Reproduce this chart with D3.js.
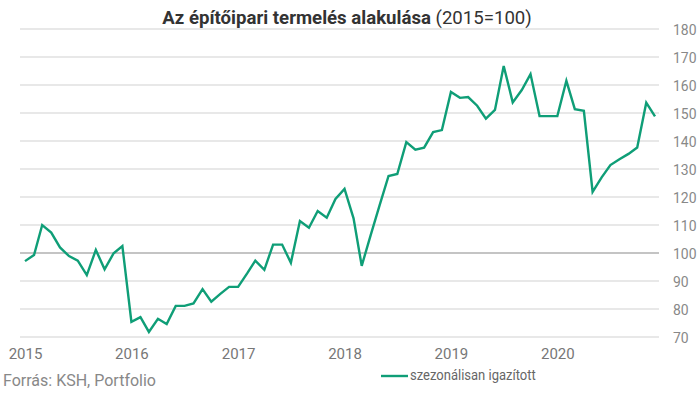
<!DOCTYPE html>
<html>
<head>
<meta charset="utf-8">
<script src="https://cdn.jsdelivr.net/npm/d3@7"></script>
<style>
  html, body { margin: 0; padding: 0; background: #fff; }
  svg { display: block; font-family: Roboto, "Noto Sans", sans-serif; }
</style>
</head>
<body>
<svg id="chart" width="699" height="395"></svg>
<script>
// ---- data ----
const startYear = 2015;
const values = [
  97.1, 99.3, 110.0, 107.3, 102.0, 98.9, 97.3, 92.1, 101.1, 94.2, 99.9, 102.5,
  75.4, 77.1, 71.8, 76.5, 74.6, 81.1, 81.1, 82.0, 87.1, 82.6, 85.4, 87.9,
  87.9, 92.7, 97.3, 94.0, 103.0, 103.0, 96.5, 111.4, 109.0, 115.0, 112.6, 119.3,
  122.9, 112.4, 95.4, 106.5, 116.9, 127.5, 128.2, 139.6, 136.9, 137.6, 143.2, 143.9,
  157.5, 155.4, 155.7, 152.6, 148.0, 151.1, 166.8, 153.8, 158.2, 163.9, 148.9, 148.9,
  148.9, 161.5, 151.4, 150.8, 121.8, 127.0, 131.4, 133.5, 135.4, 137.7, 153.7, 148.8
];
const yTicks = [70, 80, 90, 100, 110, 120, 130, 140, 150, 160, 170, 180];
const xTickLabels = ["2015", "2016", "2017", "2018", "2019", "2020"];
const titleBold = "Az építőipari termelés alakulása";
const titleNormal = " (2015=100)";
const sourceText = "Forrás: KSH, Portfolio";
const seriesName = "szezonálisan igazított";

const data = values.map((v, i) => ({ date: new Date(startYear + Math.floor(i / 12), i % 12, 1), v }));

const svg = d3.select("#chart");
const color = "#0f9e77";

const x = d3.scaleTime()
  .domain([new Date(2015, 0, 1), new Date(2020, 11, 1)])
  .range([25, 655]);
const y = d3.scaleLinear().domain([70, 180]).range([337, 29]);

// gridlines
svg.append("g").selectAll("line").data(yTicks).join("line")
  .attr("x1", 20).attr("x2", 659)
  .attr("y1", d => y(d)).attr("y2", d => y(d))
  .attr("stroke", d => d === 100 ? "#8a8a8a" : "#d2d2d2")
  .attr("stroke-width", 1.2);

// right axis labels
const yAxis = d3.axisRight(y).tickValues(yTicks).tickSize(0).tickPadding(0);
const gy = svg.append("g").attr("transform", "translate(673,0)").call(yAxis);
gy.select(".domain").remove();
gy.selectAll("text").attr("fill", "#888").style("font-size", "15px")
  .style("font-family", "Roboto, sans-serif").attr("dy", "0.35em")
  .attr("transform", "scale(0.93,1)");

// bottom axis labels
const xAxis = d3.axisBottom(x)
  .tickValues(xTickLabels.map(s => new Date(+s, 0, 1)))
  .tickFormat((d, i) => xTickLabels[i]).tickSize(0).tickPadding(0);
const gx = svg.append("g").attr("transform", "translate(0,348)").call(xAxis);
gx.select(".domain").remove();
gx.selectAll("text").attr("fill", "#777").style("font-size", "15px")
  .style("font-family", "Roboto, sans-serif");

// line
svg.append("path").datum(data)
  .attr("fill", "none").attr("stroke", color).attr("stroke-width", 2.4)
  .attr("stroke-linejoin", "miter")
  .attr("d", d3.line().x(d => x(d.date)).y(d => y(d.v)));

// title (condensed look: larger size, compressed horizontally to target width)
const titleG = svg.append("g");
const title = titleG.append("text").attr("x", 0).attr("y", 0)
  .attr("text-anchor", "middle").attr("fill", "#333").style("font-size", "19px");
title.append("tspan").attr("font-weight", "bold").text(titleBold);
title.append("tspan").attr("font-weight", "normal").text(titleNormal);
const tLen = title.node().getComputedTextLength();
const tScale = Math.min(1, 370 / tLen);
titleG.attr("transform", `translate(347,24) scale(${tScale},1)`);

// source
svg.append("text").attr("x", 3).attr("y", 386).attr("fill", "#888")
  .style("font-size", "16px").text(sourceText);

// legend
svg.append("line").attr("x1", 381).attr("x2", 408).attr("y1", 376).attr("y2", 376)
  .attr("stroke", color).attr("stroke-width", 2.4);
svg.append("text").attr("x", 410).attr("y", 380).attr("fill", "#666")
  .style("font-size", "14px").attr("transform", "translate(410,0) scale(0.93,1) translate(-410,0)")
  .text(seriesName);
</script>
</body>
</html>
